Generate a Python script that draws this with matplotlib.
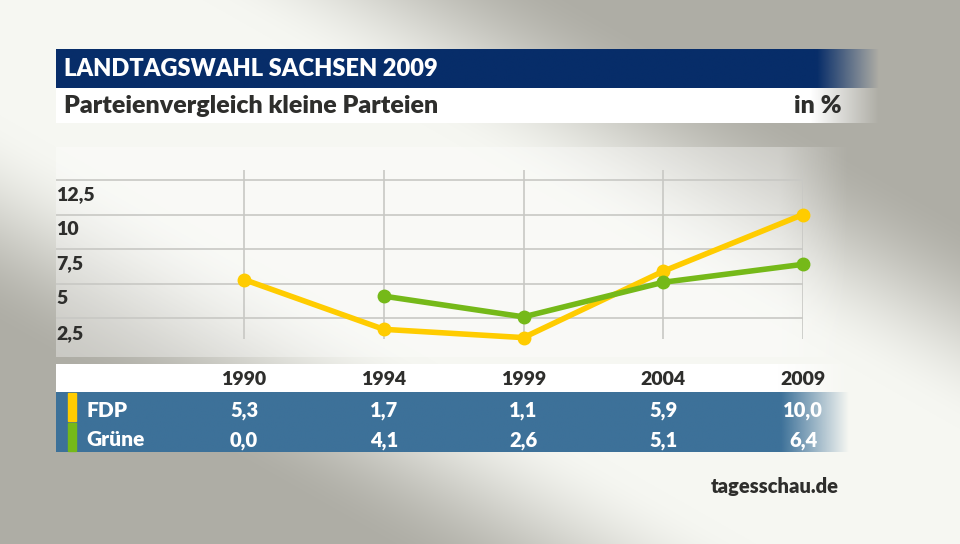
import numpy as np
import matplotlib
matplotlib.use('Agg')
import matplotlib.pyplot as plt
from matplotlib import font_manager
from matplotlib.transforms import blended_transform_factory as btf

# ---------------- data ----------------
years = ['1990', '1994', '1999', '2004', '2009']
fdp = [5.3, 1.7, 1.1, 5.9, 10.0]
gruene = [0.0, 4.1, 2.6, 5.1, 6.4]
fdp_labels = ['5,3', '1,7', '1,1', '5,9', '10,0']
gruene_labels = ['0,0', '4,1', '2,6', '5,1', '6,4']
yticks = [2.5, 5, 7.5, 10, 12.5]
ytick_labels = ['2,5', '5', '7,5', '10', '12,5']
title = 'LANDTAGSWAHL SACHSEN 2009'
subtitle = 'Parteienvergleich kleine Parteien'
unit = 'in %'
source = 'tagesschau.de'

# ---------------- style ----------------
avail = {f.name for f in font_manager.fontManager.ttflist}
FONT = 'Lato' if 'Lato' in avail else 'DejaVu Sans'
plt.rcParams['font.family'] = [FONT, 'DejaVu Sans']
WEIGHT = 'heavy'

YELLOW = '#FFCC00'
GREEN = '#75B919'
NAVY = '#072D69'
TABLEBLUE = '#3D7199'
DARK = '#2E2E2C'

W, H = 960, 544
fig = plt.figure(figsize=(W / 100, H / 100), dpi=100)

# background axes in pixel coordinates
bg = fig.add_axes([0, 0, 1, 1], zorder=0)
bg.set_xlim(0, W)
bg.set_ylim(H, 0)
bg.axis('off')

yy, xx = np.mgrid[0:H, 0:W]
d = np.abs(xx * 544 - yy * 960) / np.hypot(960, 544)
t = np.clip((d - 100) / 190, 0, 1)
t = t * t * (3 - 2 * t)
light = np.array([246, 247, 242]) / 255
gray = np.array([174, 173, 165]) / 255
img = light[None, None, :] * (1 - t[..., None]) + gray[None, None, :] * t[..., None]
bg.imshow(img, extent=(0, W, H, 0), aspect='auto', zorder=0)


def band(x0, x1, y0, y1, color, f0, f1, alpha=1.0, z=1):
    rgb = matplotlib.colors.to_rgb(color)
    xs = np.linspace(x0, x1, 400)
    a = np.clip((f1 - xs) / (f1 - f0), 0, 1) * alpha
    arr = np.zeros((2, len(xs), 4))
    arr[..., :3] = rgb
    arr[..., 3] = a[None, :]
    bg.imshow(arr, extent=(x0, x1, y1, y0), aspect='auto', zorder=z,
              interpolation='bilinear')


band(56, 880, 49, 88, NAVY, 818, 880)
band(56, 880, 88, 123, '#FFFFFF', 812, 880)
band(56, 850, 147, 357, '#FFFFFF', 780, 850, alpha=0.35)
band(56, 850, 364, 392, '#FFFFFF', 780, 850)
band(56, 850, 392, 452, TABLEBLUE, 782, 850)

bg.add_patch(plt.Rectangle((68, 393), 8, 28, color=YELLOW, zorder=3))
bg.add_patch(plt.Rectangle((68, 423), 8, 28, color=GREEN, zorder=3))

bg.text(64, 76, title, color='white', fontsize=17, fontweight=WEIGHT,
        va='baseline', ha='left', zorder=4)
bg.text(64, 113, subtitle, color=DARK, fontsize=18, fontweight=WEIGHT,
        va='baseline', ha='left', zorder=4)
bg.text(842, 113, unit, color=DARK, fontsize=18, fontweight=WEIGHT,
        va='baseline', ha='right', zorder=4)
bg.text(839, 493, source, color=DARK, fontsize=14.5, fontweight=WEIGHT,
        va='baseline', ha='right', zorder=4)
bg.text(86, 417, 'FDP', color='white', fontsize=15, fontweight=WEIGHT,
        va='baseline', ha='left', zorder=4)
bg.text(86, 446, 'Grüne', color='white', fontsize=15, fontweight=WEIGHT,
        va='baseline', ha='left', zorder=4)

# ---------------- chart axes ----------------
left, right, top, bottom = 56, 803, 170, 339
ax = fig.add_axes([left / W, (H - bottom) / H, (right - left) / W, (bottom - top) / H],
                  zorder=2)
ax.patch.set_alpha(0)
x = np.arange(len(years))
ax.set_xlim((left - 244) / 139.75, 4)
ax.set_ylim(1.0, 13.22)
ax.set_xticks(x)
ax.set_yticks(yticks)
ax.grid(True, color='#C8C8C4', lw=1.2)
ax.tick_params(length=0, labelbottom=False, labelleft=False)
for s in ax.spines.values():
    s.set_visible(False)

ax.plot(x, fdp, color=YELLOW, lw=4, marker='o', ms=9, clip_on=False,
        solid_joinstyle='round', zorder=3)
g = np.array(gruene, dtype=float)
g[g == 0] = np.nan
ax.plot(x, g, color=GREEN, lw=4, marker='o', ms=9, clip_on=False,
        solid_joinstyle='round', zorder=4)

tr_lab = btf(ax.transAxes, ax.transData)
for v, lab in zip(yticks, ytick_labels):
    ax.text(0, v - 1.08, lab, transform=tr_lab, ha='left', va='center',
            color=DARK, fontsize=14, fontweight=WEIGHT)

# ---------------- table ----------------
tr = btf(ax.transData, bg.transData)
for i in range(len(years)):
    fig.text(x[i], 385, years[i], transform=tr, ha='center', va='baseline',
             color=DARK, fontsize=14, fontweight=WEIGHT, zorder=5)
    fig.text(x[i], 417, fdp_labels[i], transform=tr, ha='center', va='baseline',
             color='white', fontsize=14.5, fontweight=WEIGHT, zorder=5)
    fig.text(x[i], 446, gruene_labels[i], transform=tr, ha='center', va='baseline',
             color='white', fontsize=14.5, fontweight=WEIGHT, zorder=5)

fig.savefig('out.png', dpi=100)
